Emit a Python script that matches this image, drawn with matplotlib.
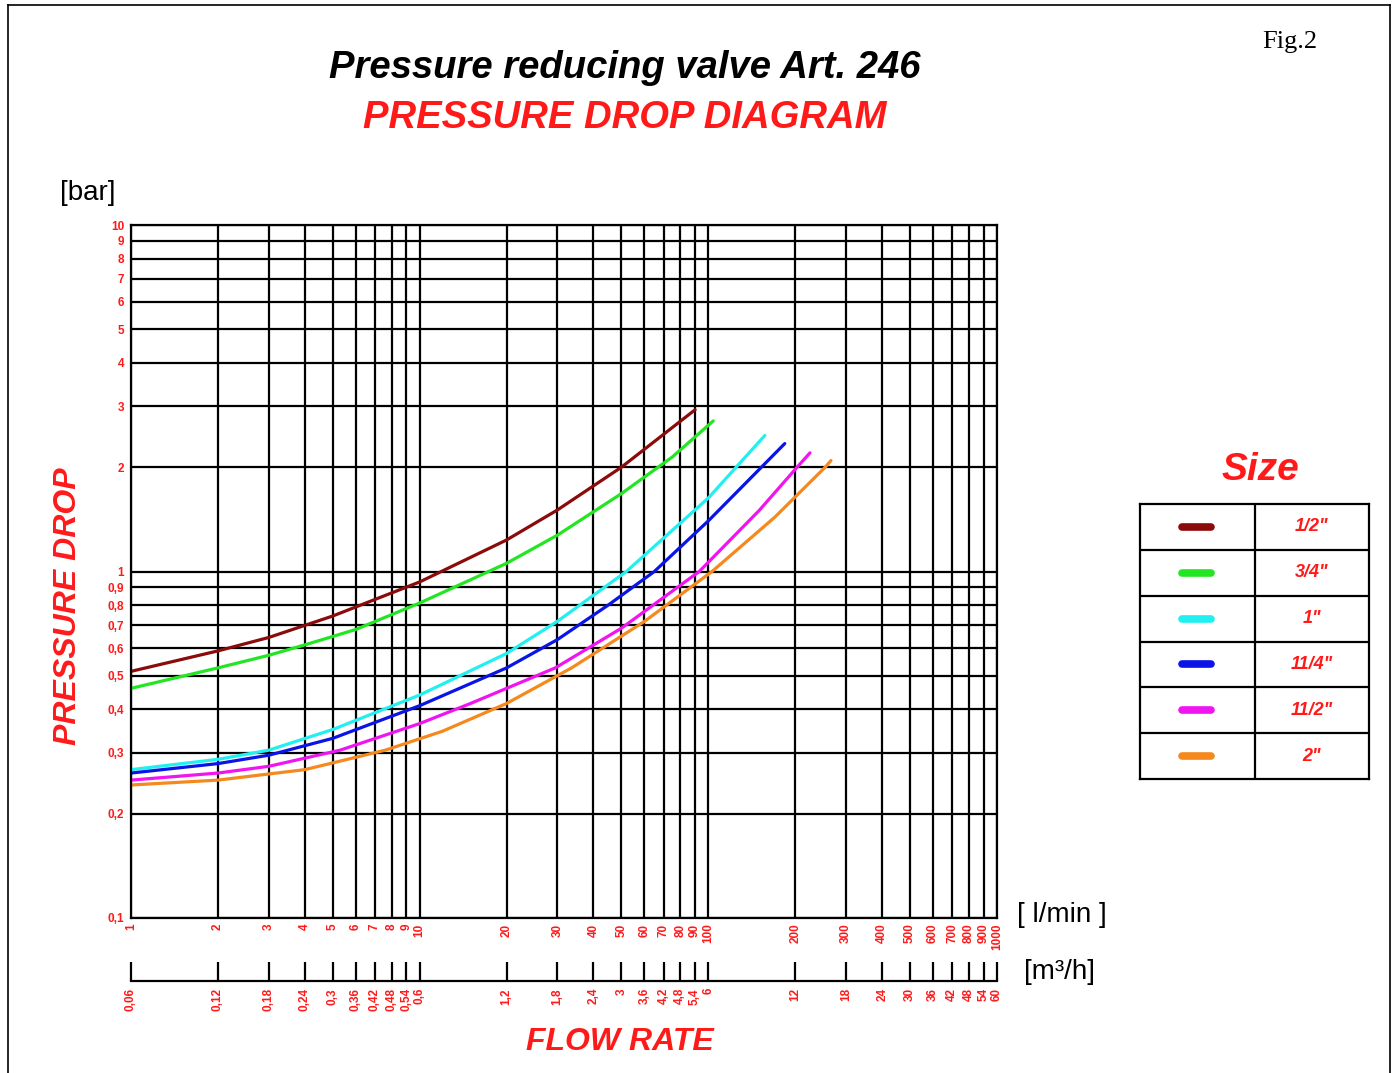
import matplotlib
matplotlib.use("Agg")
import matplotlib.pyplot as plt
from matplotlib.lines import Line2D

SANS = ["Liberation Sans", "DejaVu Sans"]
RED = "#ff1a1a"

# ticks
x_ticks = [1, 2, 3, 4, 5, 6, 7, 8, 9, 10, 20, 30, 40, 50, 60, 70, 80, 90, 100,
           200, 300, 400, 500, 600, 700, 800, 900, 1000]
x_labels = [str(v) for v in x_ticks]
m3h_labels = ["0,06", "0,12", "0,18", "0,24", "0,3", "0,36", "0,42", "0,48", "0,54", "0,6",
              "1,2", "1,8", "2,4", "3", "3,6", "4,2", "4,8", "5,4", "6",
              "12", "18", "24", "30", "36", "42", "48", "54", "60"]
y_ticks = [0.1, 0.2, 0.3, 0.4, 0.5, 0.6, 0.7, 0.8, 0.9, 1, 2, 3, 4, 5, 6, 7, 8, 9, 10]
y_labels = ["0,1", "0,2", "0,3", "0,4", "0,5", "0,6", "0,7", "0,8", "0,9",
            "1", "2", "3", "4", "5", "6", "7", "8", "9", "10"]

# curves (flow l/min, pressure drop bar)
sizes = ['1/2"', '3/4"', '1"', '11/4"', '11/2"', '2"']
colors = ["#8b0a0a", "#22e622", "#22f0f0", "#0a14e6", "#f014f0", "#f5891e"]
flow_12 = [1, 2, 3, 5, 10, 20, 30, 50, 90]
dp_12 = [0.515, 0.59, 0.645, 0.744, 0.933, 1.233, 1.505, 2.0, 2.93]
flow_34 = [1, 2, 3, 4, 6, 10, 20, 30, 50, 75, 104]
dp_34 = [0.46, 0.527, 0.573, 0.614, 0.68, 0.811, 1.056, 1.273, 1.678, 2.14, 2.72]
flow_1 = [1, 2, 3, 5, 10, 20, 30, 52, 100, 157]
dp_1 = [0.268, 0.287, 0.305, 0.35, 0.44, 0.58, 0.718, 1.0, 1.63, 2.47]
flow_114 = [1, 2, 3, 5, 10, 20, 30, 45, 65, 100, 184]
dp_114 = [0.262, 0.279, 0.295, 0.33, 0.41, 0.527, 0.636, 0.80, 1.0, 1.4, 2.34]
flow_112 = [1, 2, 3, 5.3, 10, 15, 29.5, 50, 93, 150, 203, 225]
dp_112 = [0.25, 0.262, 0.274, 0.305, 0.364, 0.416, 0.527, 0.686, 1.0, 1.5, 2.0, 2.2]
flow_2 = [1, 2, 4, 7.6, 12, 20, 33.6, 60, 103, 170, 254, 266]
dp_2 = [0.242, 0.25, 0.268, 0.305, 0.346, 0.416, 0.527, 0.717, 1.0, 1.435, 2.0, 2.09]

flows = [flow_12, flow_34, flow_1, flow_114, flow_112, flow_2]
drops = [dp_12, dp_34, dp_1, dp_114, dp_112, dp_2]

W, H = 1396, 1073
fig = plt.figure(figsize=(W / 100, H / 100), dpi=100)

# main diagram
ax = fig.add_axes([131 / W, 1 - 918 / H, (997 - 131) / W, (918 - 225) / H])
ax.set_xscale("log")
ax.set_yscale("log")
ax.set_xlim(1, 1000)
ax.set_ylim(0.1, 10)
ax.set_xticks(x_ticks, x_labels)
ax.set_yticks(y_ticks, y_labels)
ax.minorticks_off()
ax.tick_params(axis="both", length=0, labelcolor=RED, labelsize=8.5)
ax.tick_params(axis="x", pad=4, labelrotation=90)
ax.tick_params(axis="y", pad=5)
for lab in ax.get_xticklabels() + ax.get_yticklabels():
    lab.set_fontweight("bold")
    lab.set_family(SANS)
for lab in ax.get_xticklabels():
    lab.set_verticalalignment("top")
ax.grid(True, color="black", lw=1.6)
for sp in ax.spines.values():
    sp.set_linewidth(1.6)

for f, d, c in zip(flows, drops, colors):
    ax.plot(f, d, color=c, lw=2.3, solid_capstyle="round", solid_joinstyle="round")

# second flow scale in m3/h
sec = ax.secondary_xaxis(-0.091, functions=(lambda v: v * 0.06, lambda v: v / 0.06))
sec.set_xticks([v * 0.06 for v in x_ticks], m3h_labels)
sec.minorticks_off()
sec.tick_params(axis="x", direction="in", length=14, width=1.6, pad=5,
                labelcolor=RED, labelsize=8.5, labelrotation=90)
sec.spines["bottom"].set_linewidth(1.6)
for lab in sec.get_xticklabels():
    lab.set_fontweight("bold")
    lab.set_family(SANS)
    lab.set_verticalalignment("top")

# texts
fig.text(625 / W, 1 - 68 / H, "Pressure reducing valve Art. 246", ha="center", va="center",
         fontsize=27.5, fontweight="bold", style="italic", family=SANS)
fig.text(625 / W, 1 - 118 / H, "PRESSURE DROP DIAGRAM", ha="center", va="center",
         fontsize=27.5, fontweight="bold", style="italic", color=RED, family=SANS)
fig.text(1290 / W, 1 - 42 / H, "Fig.2", ha="center", va="center", fontsize=19,
         family=["Liberation Serif", "DejaVu Serif"])
fig.text(88 / W, 1 - 193 / H, "[bar]", ha="center", va="center", fontsize=20, family=SANS)
fig.text(1062 / W, 1 - 915 / H, "[ l/min ]", ha="center", va="center", fontsize=20, family=SANS)
fig.text(1060 / W, 1 - 972 / H, "[m³/h]", ha="center", va="center", fontsize=20, family=SANS)
fig.text(68 / W, 1 - 606 / H, "PRESSURE DROP", ha="center", va="center", rotation=90,
         fontsize=23, fontweight="bold", style="italic", color=RED, family=SANS)
fig.text(620 / W, 1 - 1042 / H, "FLOW RATE", ha="center", va="center",
         fontsize=23, fontweight="bold", style="italic", color=RED, family=SANS)
fig.text(1260 / W, 1 - 470 / H, "Size", ha="center", va="center",
         fontsize=28, fontweight="bold", style="italic", color=RED, family=SANS)

# legend table
lg = fig.add_axes([1140 / W, 1 - 779 / H, (1369 - 1140) / W, (779 - 504) / H])
lg.set_xlim(0, 2)
lg.set_ylim(len(sizes), 0)
lg.set_xticks([])
lg.set_yticks([])
for sp in lg.spines.values():
    sp.set_linewidth(1.6)
lg.axvline(1, color="black", lw=1.6)
for i, (s, c) in enumerate(zip(sizes, colors)):
    if i > 0:
        lg.axhline(i, color="black", lw=1.6)
    lg.plot([0.37, 0.62], [i + 0.5, i + 0.5], color=c, lw=5.5, solid_capstyle="round")
    lg.text(1.5, i + 0.5, s, ha="center", va="center", color=RED, fontsize=13,
            fontweight="bold", style="italic", family=SANS)

# page frame
frame = dict(color="black", lw=1.2, transform=fig.transFigure)
fig.add_artist(Line2D([8 / W, 8 / W], [0, 1 - 5 / H], **frame))
fig.add_artist(Line2D([8 / W, 1390 / W], [1 - 5 / H, 1 - 5 / H], **frame))
fig.add_artist(Line2D([1390 / W, 1390 / W], [0, 1 - 5 / H], **frame))

fig.savefig("out.png", dpi=100)
